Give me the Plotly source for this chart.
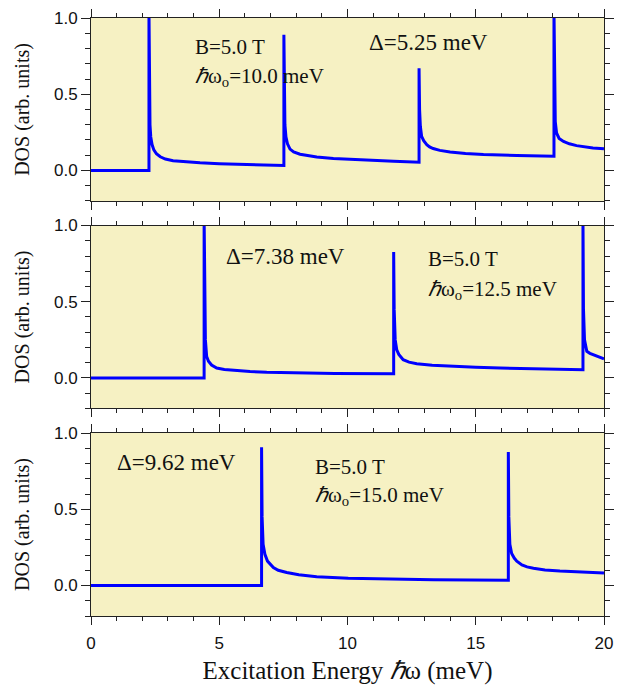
import plotly.graph_objects as go

# ---- data (x in meV, DOS in arb. units) ----
x_top = [0, 2.26, 2.26, 2.28, 2.30, 2.33, 2.38, 2.45, 2.55, 2.7, 2.9, 3.2, 3.7,
         4.25, 5.0, 6.0, 7.0, 7.52,
         7.52, 7.54, 7.56, 7.6, 7.66, 7.76, 7.9, 8.15, 8.5, 8.8, 9.45, 10.1,
         10.75, 11.8, 12.79,
         12.79, 12.81, 12.84, 12.89, 12.97, 13.09, 13.2, 13.34, 13.6, 14.0,
         14.6, 15.3, 16.6, 18.05,
         18.05, 18.07, 18.10, 18.15, 18.25, 18.42, 18.65, 18.93, 19.25, 19.57,
         20.0]
y_top = [0, 0, 1.05, 0.5, 0.3, 0.22, 0.17, 0.135, 0.11, 0.09, 0.075, 0.064,
         0.056, 0.05, 0.044, 0.038, 0.035, 0.033,
         0.89, 0.45, 0.3, 0.22, 0.175, 0.14, 0.122, 0.107, 0.095, 0.088, 0.079,
         0.073, 0.067, 0.06, 0.054,
         0.67, 0.4, 0.29, 0.224, 0.195, 0.17, 0.155, 0.144, 0.132, 0.122,
         0.112, 0.105, 0.098, 0.094,
         1.05, 0.5, 0.32, 0.246, 0.21, 0.19, 0.175, 0.163, 0.155, 0.148,
         0.142]

x_mid = [0, 4.41, 4.41, 4.43, 4.46, 4.51, 4.58, 4.7, 4.9, 5.2, 5.55, 6.2,
         6.85, 8.0, 9.5, 11.80,
         11.80, 11.82, 11.86, 11.92, 12.0, 12.17, 12.4, 12.7, 13.3, 14.0,
         15.0, 15.95, 17.5, 19.18,
         19.18, 19.20, 19.24, 19.33, 19.45, 19.58, 19.8, 20.0]
y_mid = [0, 0, 1.05, 0.45, 0.25, 0.14, 0.11, 0.085, 0.065, 0.056, 0.05,
         0.042, 0.037, 0.033, 0.03, 0.028,
         0.826, 0.45, 0.25, 0.185, 0.155, 0.12, 0.104, 0.094, 0.083, 0.076,
         0.07, 0.065, 0.059, 0.054,
         1.05, 0.45, 0.25, 0.175, 0.162, 0.153, 0.138, 0.125]

x_bot = [0, 6.65, 6.65, 6.67, 6.71, 6.78, 6.88, 7.0, 7.11, 7.3, 7.63, 8.1,
         8.8, 10.03, 11.5, 13.35, 16.27,
         16.27, 16.29, 16.33, 16.4, 16.5, 16.6, 16.8, 17.0, 17.25, 17.7,
         18.28, 19.0, 20.0]
y_bot = [0, 0, 0.906, 0.45, 0.27, 0.205, 0.16, 0.135, 0.118, 0.1, 0.085,
         0.07, 0.058, 0.048, 0.042, 0.037, 0.035,
         0.876, 0.45, 0.27, 0.21, 0.18, 0.16, 0.135, 0.122, 0.113, 0.102,
         0.095, 0.088, 0.082]

deltas = ["5.25", "7.38", "9.62"]
omegas = ["10.0", "12.5", "15.0"]
field = "B=5.0 T"
x_ticks = [0, 5, 10, 15, 20]

SERIF = "Liberation Serif, Times New Roman, serif"
SANS = "Liberation Sans, Arial, sans-serif"
BG = "#F6F1C3"
AX = "#222222"

fig = go.Figure()
series = [(x_top, y_top), (x_mid, y_mid), (x_bot, y_bot)]
for i, (xs, ys) in enumerate(series):
    suf = "" if i == 0 else str(i + 1)
    fig.add_trace(go.Scatter(x=xs, y=ys, mode="lines",
                             line=dict(color="#0000FF", width=3),
                             xaxis="x" + suf, yaxis="y" + suf,
                             showlegend=False, hoverinfo="skip"))

domains = [[0.694, 1.0], [0.347, 0.653], [0.0, 0.306]]
layout = dict(
    width=618, height=685,
    margin=dict(l=91, r=14, t=18, b=69, autoexpand=False),
    paper_bgcolor="white",
    plot_bgcolor=BG,
    showlegend=False,
)
for i in range(3):
    suf = "" if i == 0 else str(i + 1)
    layout["xaxis" + suf] = dict(
        domain=[0, 1], range=[0, 20], anchor="y" + suf,
        tickmode="array", tickvals=x_ticks,
        showticklabels=(i == 2), automargin=False,
        ticks="outside", ticklen=8, tickwidth=1, tickcolor=AX,
        ticklabelstandoff=4,
        minor=dict(dtick=1, tick0=0, ticks="outside", ticklen=4,
                   tickcolor=AX, showgrid=False),
        showline=True, linecolor=AX, linewidth=1, mirror="ticks",
        showgrid=False, zeroline=False,
        tickfont=dict(family=SANS, size=17, color="#111"),
    )
    layout["yaxis" + suf] = dict(
        domain=domains[i], range=[-0.2, 1.0], anchor="x" + suf,
        tickmode="linear", tick0=0, dtick=0.5, tickformat=".1f",
        automargin=False,
        ticks="outside", ticklen=9, tickwidth=1, tickcolor=AX,
        minor=dict(dtick=0.1, tick0=0, ticks="outside", ticklen=5,
                   tickcolor=AX, showgrid=False),
        showline=True, linecolor=AX, linewidth=1, mirror="ticks",
        showgrid=False, zeroline=False,
        tickfont=dict(family=SANS, size=17, color="#111"),
        title=dict(text="DOS (arb. units)", standoff=18,
                   font=dict(family=SERIF, size=20, color="#111")),
    )
layout["xaxis3"]["title"] = dict(
    text="Excitation Energy <i>ℏ</i>ω (meV)", standoff=12,
    font=dict(family=SERIF, size=25, color="#111"))

fig.update_layout(**layout)

# annotation placement (data coords of each panel)
ann_pos = [
    # (delta x, delta y, B x, B y, omega x, omega y)
    (10.76, 0.84, 3.98, 0.81, 3.98, 0.61),
    (5.19, 0.795, 13.06, 0.78, 13.06, 0.58),
    (0.94, 0.806, 8.65, 0.78, 8.65, 0.585),
]
for i, (dx, dy, bx, by, ox, oy) in enumerate(ann_pos):
    suf = "" if i == 0 else str(i + 1)
    common = dict(xref="x" + suf, yref="y" + suf, showarrow=False,
                  xanchor="left", yanchor="middle")
    fig.add_annotation(x=dx, y=dy, text="Δ=" + deltas[i] + " meV",
                       font=dict(family=SERIF, size=23, color="#111"), **common)
    fig.add_annotation(x=bx, y=by, text=field,
                       font=dict(family=SERIF, size=21, color="#111"), **common)
    fig.add_annotation(x=ox, y=oy,
                       text="<i>ℏ</i>ω<sub>o</sub>=" + omegas[i] + " meV",
                       font=dict(family=SERIF, size=21, color="#111"), **common)

fig.write_html("out.html")
